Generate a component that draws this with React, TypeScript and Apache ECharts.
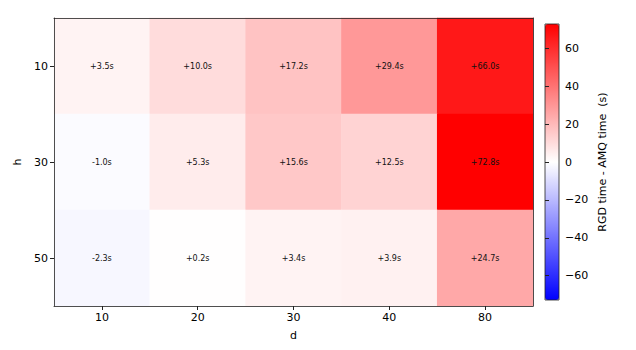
import React, { useEffect, useRef } from "react";
import * as echarts from "echarts";

const dLabels = ["10", "20", "30", "40", "80"];
const hLabels = ["10", "30", "50"];
const rowH10 = [3.5, 10.0, 17.2, 29.4, 66.0];
const rowH30 = [-1.0, 5.3, 15.6, 12.5, 72.8];
const rowH50 = [-2.3, 0.2, 3.4, 3.9, 24.7];
const cbarTicks = [-60, -40, -20, 0, 20, 40, 60];
const vLimit = 72.8;

const FONT = "DejaVu Sans";

export default function App() {
  const ref = useRef<HTMLDivElement>(null);
  useEffect(() => {
    if (!ref.current) return;
    const chart = echarts.init(ref.current, undefined, { renderer: "svg" });
    const rows = [rowH10, rowH30, rowH50];
    const data: [number, number, number][] = [];
    rows.forEach((row, yi) => row.forEach((v, xi) => data.push([xi, yi, v])));
    const axisTextStyle = { color: "#000", fontFamily: FONT, fontSize: 11 };
    const spine = { show: true, lineStyle: { color: "#222", width: 0.8 } };
    chart.setOption({
      animation: false,
      backgroundColor: "#fff",
      textStyle: { fontFamily: FONT },
      grid: [
        { left: 54, top: 18, width: 479, height: 288, show: false },
        { left: 545, top: 24, width: 14, height: 276, show: true, borderColor: "#222", borderWidth: 0.8, backgroundColor: "transparent", z: 10 },
      ],
      xAxis: [
        {
          type: "category", data: dLabels, gridIndex: 0, position: "bottom", z: 10,
          name: "d", nameLocation: "middle", nameGap: 24, nameTextStyle: axisTextStyle,
          axisLine: spine,
          axisTick: { show: true, alignWithLabel: true, length: 4, lineStyle: { color: "#222" } },
          axisLabel: { ...axisTextStyle, margin: 6 },
          splitLine: { show: false },
        },
        {
          type: "category", data: dLabels, gridIndex: 0, position: "top", z: 10,
          axisLine: spine,
          axisTick: { show: false }, axisLabel: { show: false }, splitLine: { show: false },
        },
        { type: "value", gridIndex: 1, show: false, min: 0, max: 1 },
      ],
      yAxis: [
        {
          type: "category", data: hLabels, gridIndex: 0, inverse: true, position: "left", z: 10,
          name: "h", nameLocation: "middle", nameGap: 30, nameRotate: 90, nameTextStyle: axisTextStyle,
          axisLine: spine,
          axisTick: { show: true, alignWithLabel: true, length: 4, lineStyle: { color: "#222" } },
          axisLabel: { ...axisTextStyle, margin: 6 },
          splitLine: { show: false },
        },
        {
          type: "category", data: hLabels, gridIndex: 0, inverse: true, position: "right", z: 10,
          axisLine: spine,
          axisTick: { show: false }, axisLabel: { show: false }, splitLine: { show: false },
        },
        {
          type: "value", gridIndex: 1, position: "right", min: -vLimit, max: vLimit, z: 10,
          name: "RGD time - AMQ time  (s)", nameLocation: "middle", nameGap: 38, nameRotate: 90,
          nameTextStyle: { ...axisTextStyle, fontSize: 11 },
          axisLine: { show: false },
          axisTick: { show: true, length: 4, customValues: cbarTicks, lineStyle: { color: "#222" } },
          axisLabel: {
            ...axisTextStyle, margin: 6, customValues: cbarTicks,
            formatter: (v: number) => (v < 0 ? "\u2212" + Math.abs(v) : String(v)),
          },
          splitLine: { show: false },
        },
      ],
      visualMap: {
        type: "continuous",
        min: -vLimit, max: vLimit,
        seriesIndex: 0,
        show: true,
        calculable: false,
        left: 545, top: 24,
        itemWidth: 14, itemHeight: 276,
        padding: 0,
        text: ["", ""],
        textGap: 0,
        showLabel: false,
        hoverLink: false,
        inRange: { color: ["#0000ff", "#ffffff", "#ff0000"] },
      },
      series: [
        {
          type: "heatmap",
          xAxisIndex: 0, yAxisIndex: 0,
          data,
          label: {
            show: true,
            fontSize: 8,
            fontFamily: FONT,
            color: "#111",
            formatter: (p: any) => {
              const v = p.value[2] as number;
              return (v >= 0 ? "+" : "") + v.toFixed(1) + "s";
            },
          },
          itemStyle: { borderWidth: 0 },
          emphasis: { disabled: true },
        },
      ],
    });
    return () => chart.dispose();
  }, []);
  return <div ref={ref} style={{ position: "fixed", left: 0, top: 0, width: 636, height: 350 }} />;
}
